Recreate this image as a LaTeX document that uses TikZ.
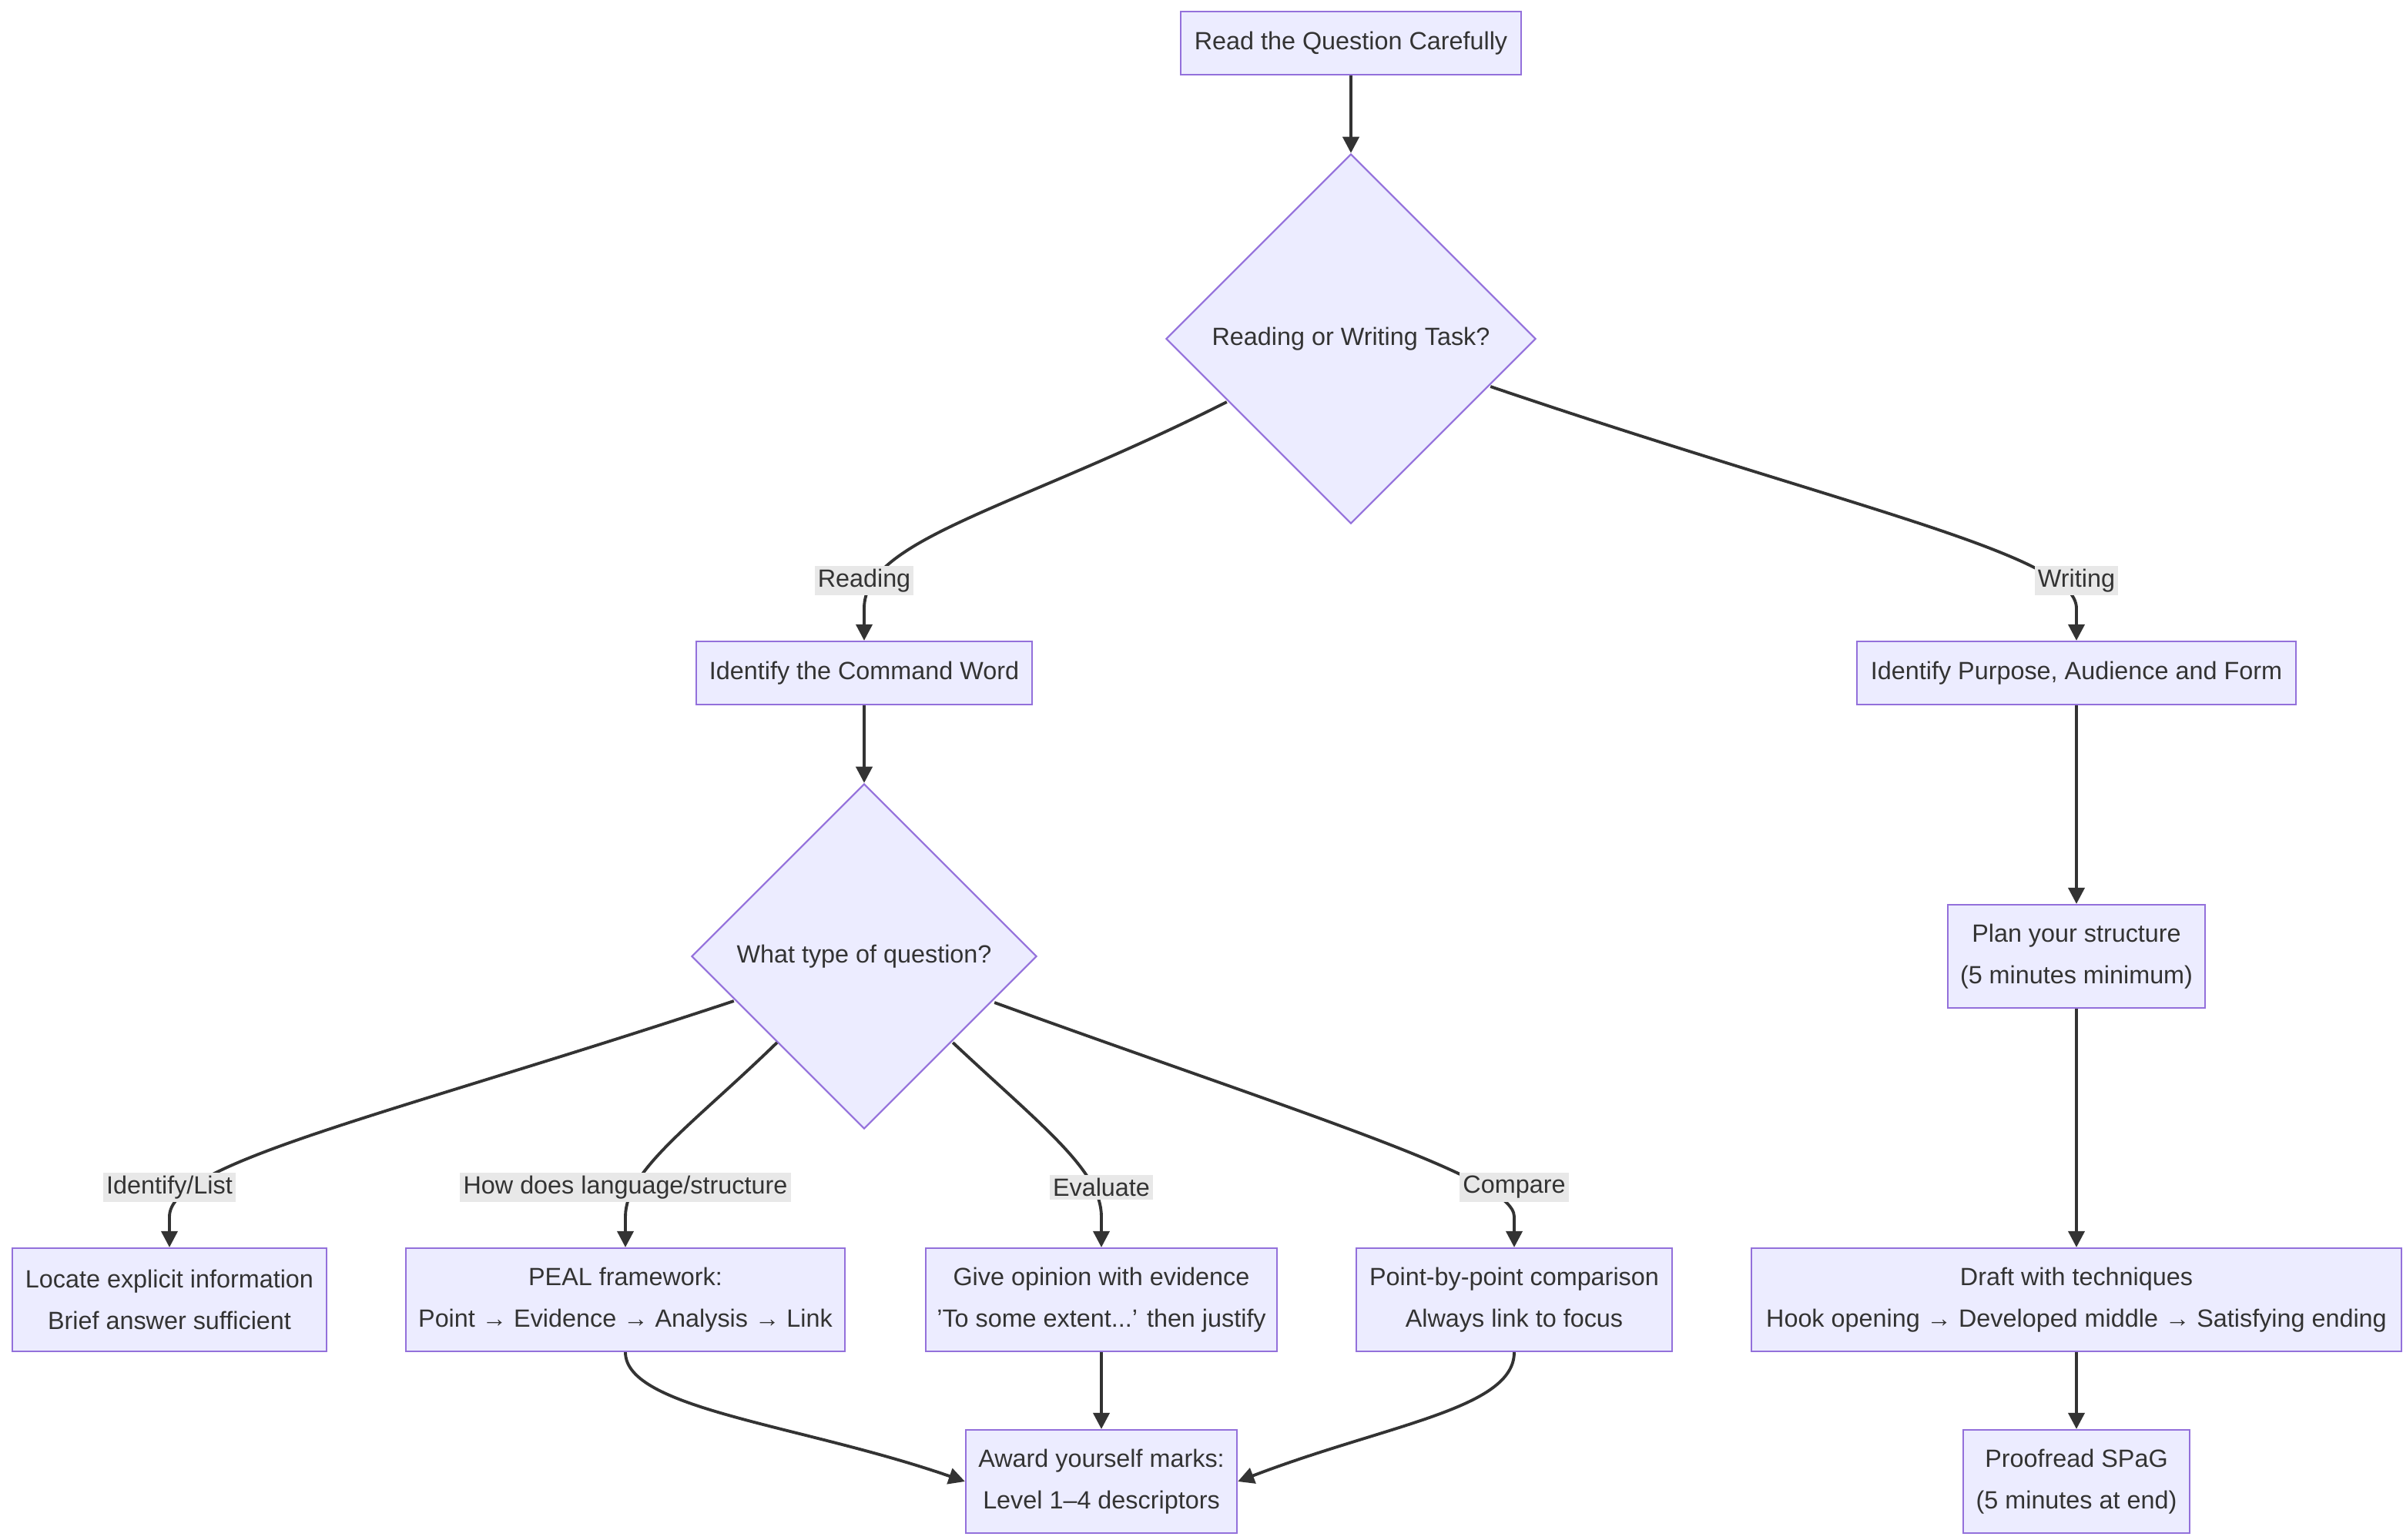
\documentclass[tikz,border=0pt]{standalone}
\usepackage{fontspec}
\setmainfont{Liberation Sans}
\usetikzlibrary{shapes.geometric,arrows.meta}
\definecolor{boxfill}{HTML}{ECECFF}
\definecolor{boxline}{HTML}{9370DB}
\definecolor{edge}{HTML}{333333}
\definecolor{lblbg}{HTML}{E8E8E8}
\begin{document}
\begin{tikzpicture}[x=0.01cm,y=-0.01cm,
  every node/.style={font=\fontsize{4.6}{7.6}\selectfont,text=edge},
  stepbox/.style={draw=boxline,fill=boxfill,line width=0.3pt,align=center,inner sep=0pt},
  choice/.style={diamond,draw=boxline,fill=boxfill,line width=0.3pt,minimum width=2.4cm,minimum height=2.4cm,inner sep=0pt},
  lbl/.style={fill=lblbg,inner sep=0.6pt},
  arr/.style={draw=edge,line width=0.55pt,-{Triangle[length=3pt,width=3pt]}}]
\useasboundingbox (0,0) rectangle (1560,1000);

% boxes
\node[stepbox,minimum width=2.21cm,minimum height=0.41cm] (read) at (877,28) {Read the Question Carefully};
\node[choice] (task) at (877,220) {Reading or Writing Task?};
\node[stepbox,minimum width=2.18cm,minimum height=0.41cm] (cmd) at (561,437) {Identify the Command Word};
\node[stepbox,minimum width=2.85cm,minimum height=0.41cm] (paf) at (1348,437) {Identify Purpose, Audience and Form};
\node[choice,minimum width=2.24cm,minimum height=2.24cm] (qtype) at (561,621) {What type of question?};
\node[stepbox,minimum width=1.67cm,minimum height=0.67cm] (plan) at (1348,621) {Plan your structure\\(5 minutes minimum)};
\node[stepbox,minimum width=2.04cm,minimum height=0.67cm] (locate) at (110,844) {Locate explicit information\\Brief answer sufficient};
\node[stepbox,minimum width=2.85cm,minimum height=0.67cm] (peal) at (406,844) {PEAL framework:\\Point → Evidence → Analysis → Link};
\node[stepbox,minimum width=2.28cm,minimum height=0.67cm] (opinion) at (715,844) {Give opinion with evidence\\'To some extent...' then justify};
\node[stepbox,minimum width=2.05cm,minimum height=0.67cm] (compare) at (983,844) {Point-by-point comparison\\Always link to focus};
\node[stepbox,minimum width=4.22cm,minimum height=0.67cm] (draft) at (1348,844) {Draft with techniques\\Hook opening → Developed middle → Satisfying ending};
\node[stepbox,minimum width=1.76cm,minimum height=0.67cm] (award) at (715,962) {Award yourself marks:\\Level 1–4 descriptors};
\node[stepbox,minimum width=1.47cm,minimum height=0.67cm] (proof) at (1348,962) {Proofread SPaG\\(5 minutes at end)};

% straight links
\draw[arr] (read) -- (task);
\draw[arr] (cmd) -- (qtype);
\draw[arr] (paf) -- (plan);
\draw[arr] (plan) -- (draft);
\draw[arr] (draft) -- (proof);
\draw[arr] (opinion) -- (award);

% branches
\draw[arr] (task.west) ++(40,41) .. controls (660,330) and (561,350) .. (561,395) -- (cmd.north);
\node[lbl] (lread) at (561,377) {Reading};
\draw[arr] (task.east) ++(-30,31) .. controls (1200,330) and (1348,360) .. (1348,395) -- (paf.north);
\node[lbl] (lwrite) at (1348,377) {Writing};

\draw[arr] (qtype.west) ++(28,29) .. controls (250,725) and (110,755) .. (110,790) -- (locate.north);
\node[lbl] (llist) at (110,771) {Identify/List};
\draw[arr] (qtype.west) ++(56,56) .. controls (450,730) and (406,760) .. (406,790) -- (peal.north);
\node[lbl] (lhow) at (406,771) {How does language/structure};
\draw[arr] (qtype.east) ++(-55,56) .. controls (675,730) and (715,760) .. (715,790) -- (opinion.north);
\node[lbl] (leval) at (715,771) {Evaluate};
\draw[arr] (qtype.east) ++(-28,30) .. controls (850,725) and (983,765) .. (983,790) -- (compare.north);
\node[lbl] (lcomp) at (983,771) {Compare};

% into marks
\draw[arr] (peal.south) .. controls (406,915) and (520,925) .. (award.west);
\draw[arr] (compare.south) .. controls (983,915) and (900,925) .. (award.east);
\end{tikzpicture}
\end{document}
